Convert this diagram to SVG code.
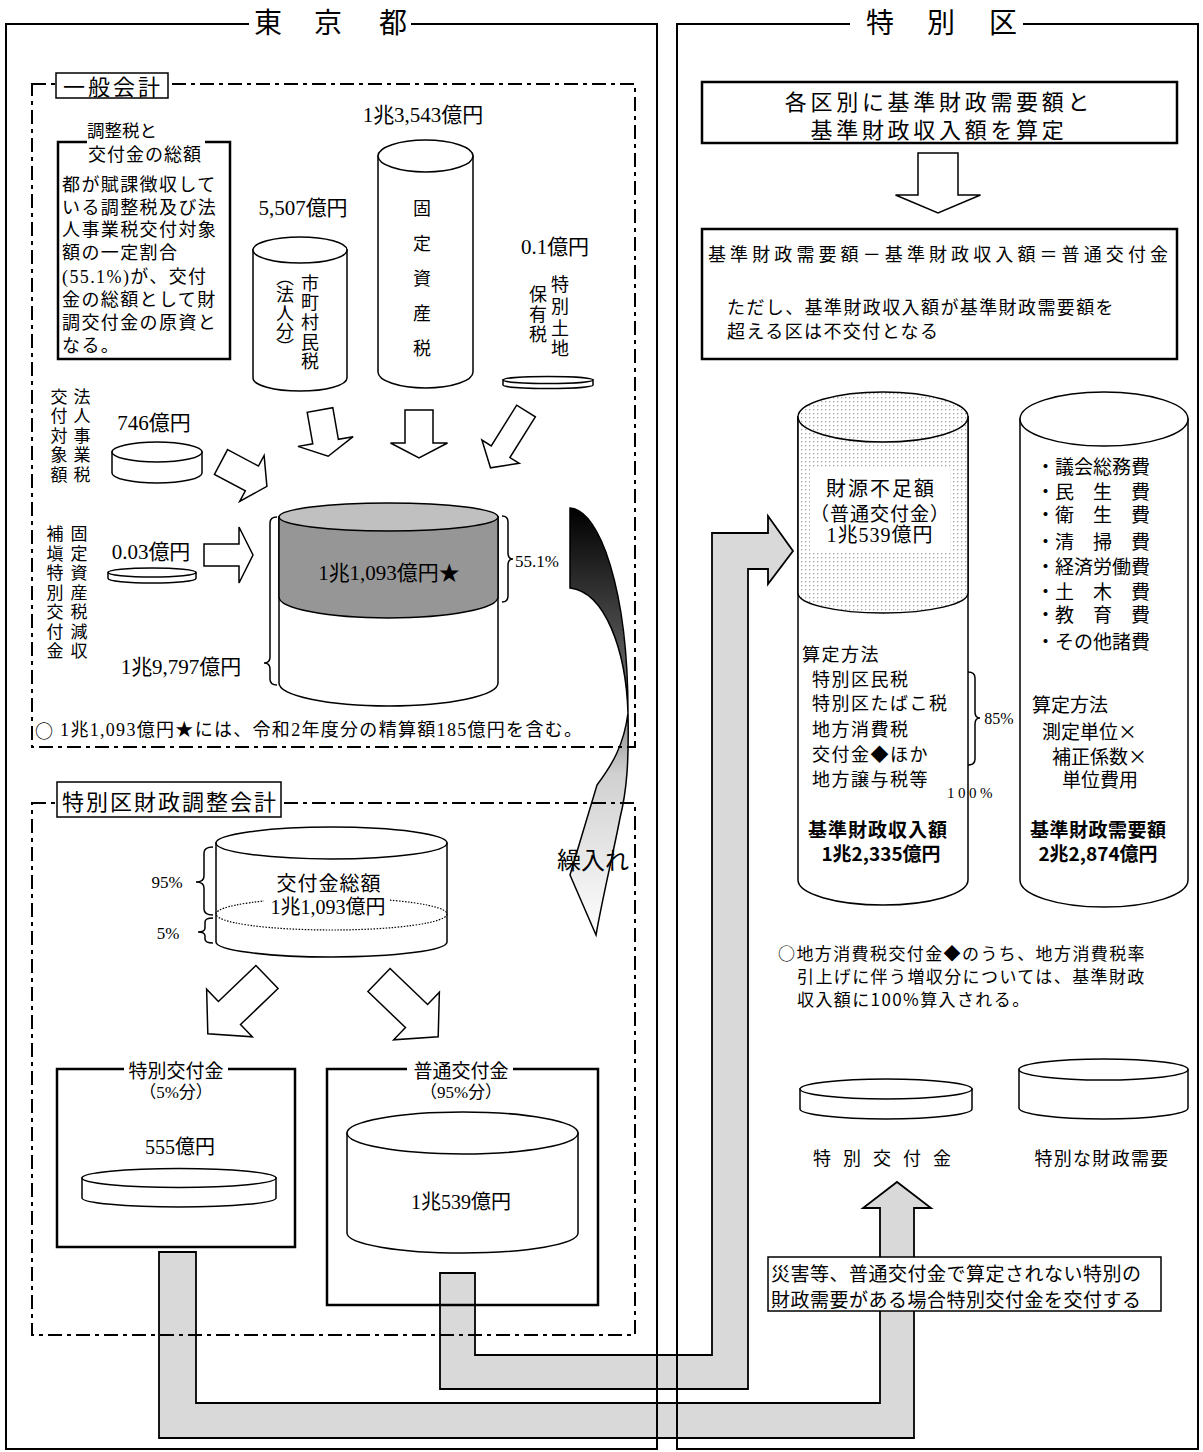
<svg xmlns="http://www.w3.org/2000/svg" width="1203" height="1452" viewBox="0 0 1203 1452">
<defs>
<style>
.t{font-family:"Liberation Serif","Noto Sans CJK JP",serif;fill:#000;dominant-baseline:central}
.s{font-family:"Noto Sans CJK JP",sans-serif;fill:#000;dominant-baseline:central}
.m{text-anchor:middle}
.b{font-weight:bold}
.ln{fill:none;stroke:#000;stroke-width:1.5}
.fw{fill:#fff;stroke:#000;stroke-width:1.5}
.bx{fill:none;stroke:#000;stroke-width:2.5}
.dd{fill:none;stroke:#000;stroke-width:2;stroke-dasharray:14 5 4 5}
.fr{fill:none;stroke:#000;stroke-width:2}
.ha{fill:#fff;stroke:#000;stroke-width:1.5}
.ga{fill:#d9d9d9;stroke:#000;stroke-width:1.8}
</style>
<pattern id="dots" width="4" height="4" patternUnits="userSpaceOnUse"><rect width="4" height="4" fill="#fff"/><rect x="1" y="1" width="1.3" height="1.3" fill="#a0a0a0"/></pattern>
<linearGradient id="gk" gradientUnits="userSpaceOnUse" x1="0" y1="508" x2="0" y2="937">
<stop offset="0" stop-color="#000"/><stop offset="0.4" stop-color="#666"/><stop offset="0.62" stop-color="#d0d0d0"/><stop offset="1" stop-color="#fff"/>
</linearGradient>
</defs>
<rect width="1203" height="1452" fill="#fff"/>

<g id="connectors">
<polygon class="ga" points="440,1273 475,1273 475,1355 712,1355 712,533 768,533 768,516 793,551 768,584 768,569 748,569 748,1389 440,1389"/>
<polygon class="ga" points="159,1252 196,1252 196,1403 880,1403 880,1208 863,1208 897,1182 931,1208 914,1208 914,1438 159,1438"/>
<polygon class="ha" points="0,-13 32,-13 32,-28 47,0 32,28 32,13 0,13" transform="translate(320,410) rotate(80)"/>
<polygon class="ha" points="0,-14 33,-14 33,-28.5 48,0 33,28.5 33,14 0,14" transform="translate(419,410) rotate(90)"/>
<polygon class="ha" points="0,-11 48,-11 48,-22 67,0 48,22 48,11 0,11" transform="translate(526,411) rotate(122)"/>
<polygon class="ha" points="0,-14 35,-14 35,-26 52,0 35,26 35,14 0,14" transform="translate(221,462) rotate(28)"/>
<polygon class="ha" points="0,-11 35,-11 35,-28 49,0 35,28 35,11 0,11" transform="translate(204,555)"/>
<polygon class="ha" points="0,-20 42,-20 42,-42.5 60,0 42,42.5 42,20 0,20" transform="translate(938,153) rotate(90)"/>
<polygon class="ha" points="0,-16 52,-16 52,-33 82,0 52,33 52,16 0,16" transform="translate(267,977) rotate(136.2)"/>
<polygon class="ha" points="0,-16 52,-16 52,-33 82,0 52,33 52,16 0,16" transform="translate(379,980) rotate(43.8)"/>
<path d="M570,508 C600,510 628,590 628,713 C626,650 605,592 570,588 Z" fill="url(#gk)" stroke="#000" stroke-width="1.5"/>
<path d="M628,713 C629,760 627,790 620,818 C614,850 603,895 596,935 L570,875 L597,785 C612,765 624,745 628,713 Z" fill="url(#gk)" stroke="#000" stroke-width="1.5"/>
<text class="s m" font-size="24" x="593" y="858" fill="#222">繰入れ</text>
</g>

<g id="frame-tokyo">
<path class="fr" d="M249,24 H6 V1449 H657 V24 H411"/>
<text class="s m" font-size="28" x="268" y="21">東</text>
<text class="s m" font-size="28" x="328" y="21">京</text>
<text class="s m" font-size="28" x="393" y="21">都</text>
</g>
<g id="frame-ku">
<path class="fr" d="M850,24 H677 V1449 H1198 V24 H1023"/>
<text class="s m" font-size="28" x="880" y="21">特</text>
<text class="s m" font-size="28" x="941" y="21">別</text>
<text class="s m" font-size="28" x="1003" y="21">区</text>
</g>

<g id="general-account">
<rect class="dd" x="32" y="84" width="603" height="663"/>
<rect class="fw" x="56" y="73" width="112" height="25"/>
<text class="s m" font-size="22" letter-spacing="3" x="113" y="85">一般会計</text>
<text class="t" font-size="18" x="35" y="730" textLength="547"><tspan class="s">○</tspan> 1兆1,093億円★には、令和2年度分の精算額185億円を含む。</text>
</g>

<g id="adjust-tax-box">
<path class="bx" d="M87,142 H58 V359 H230 V142 H205"/>
<text class="s" font-size="17.5" x="87" y="129">調整税と</text>
<text class="s" font-size="18" letter-spacing="1" x="88" y="153">交付金の総額</text>
<g class="t" font-size="18" letter-spacing="1.4">
<text x="62" y="185">都が賦課徴収して</text>
<text x="62" y="208">いる調整税及び法</text>
<text x="62" y="230">人事業税交付対象</text>
<text x="62" y="253">額の一定割合</text>
<text x="62" y="277">(55.1%)が、交付</text>
<text x="62" y="300">金の総額として財</text>
<text x="62" y="323">調交付金の原資と</text>
<text x="62" y="346">なる。</text>
</g>
</g>

<g id="cyl-shichoson">
<text class="t m" font-size="21" x="303" y="208">5,507億円</text>
<path class="fw" d="M253,250 V378 A47,13 0 0 0 347,378 V250 Z"/>
<ellipse class="fw" cx="300" cy="250" rx="47" ry="13"/>
<text class="s m" font-size="18" x="310 310 310 310 310" y="282 301 321 341 360">市町村民税</text>
<text class="s m" font-size="18" x="285 285 285 285 285" y="276 293 312 330 346">︵法人分︶</text>
</g>

<g id="cyl-kotei">
<text class="t m" font-size="21" x="423" y="115">1兆3,543億円</text>
<path class="fw" d="M378,156 V372 A47.5,16 0 0 0 473,372 V156 Z"/>
<ellipse class="fw" cx="425.5" cy="156" rx="47.5" ry="16"/>
<text class="s m" font-size="18" x="422 422 422 422 422" y="207 242 277 312 347">固定資産税</text>
</g>

<g id="cyl-tokubetsu-tochi">
<text class="t m" font-size="21" x="555" y="247">0.1億円</text>
<text class="s m" font-size="18" x="560 560 560 560" y="283 305 327 347">特別土地</text>
<text class="s m" font-size="18" x="538 538 538" y="293 313 333">保有税</text>
<path class="fw" d="M503,380 V385 A45,3.5 0 0 0 593,385 V380 Z"/>
<ellipse class="fw" cx="548" cy="380" rx="45" ry="3.5"/>
</g>

<g id="cyl-houjin">
<text class="s m" font-size="17" x="82 82 82 82 82" y="395 414 434 453 473">法人事業税</text>
<text class="s m" font-size="17" x="59 59 59 59 59" y="395 414 434 453 473">交付対象額</text>
<text class="t m" font-size="21" x="154" y="423">746億円</text>
<path class="fw" d="M112,452 V473 A45,10 0 0 0 202,473 V452 Z"/>
<ellipse class="fw" cx="157" cy="452" rx="45" ry="10"/>
</g>

<g id="cyl-hoten">
<text class="s m" font-size="17" x="79 79 79 79 79 79 79" y="532 552 571 591 610 630 649">固定資産税減収</text>
<text class="s m" font-size="17" x="55 55 55 55 55 55 55" y="532 552 571 591 610 630 649">補塡特別交付金</text>
<text class="t m" font-size="21" x="151" y="552">0.03億円</text>
<path class="fw" d="M108,572.5 V578.5 A44,4.5 0 0 0 196,578.5 V572.5 Z"/>
<ellipse class="fw" cx="152" cy="572.5" rx="44" ry="4.5"/>
</g>

<g id="cyl-total">
<path class="fw" d="M279,517 V683 A109.5,23 0 0 0 498,683 V517 Z"/>
<path d="M279,517 V597 A109.5,21 0 0 0 498,597 V517 Z" fill="#969696" stroke="#000" stroke-width="1.5"/>
<ellipse cx="388.5" cy="517" rx="109.5" ry="14" fill="#c0c0c0" stroke="#000" stroke-width="1.5"/>
<text class="t m" font-size="21" x="389" y="573">1兆1,093億円★</text>
<path class="ln" d="M502,516 Q508,516 508,522 V553 Q508,559 513,559 Q508,559 508,565 V596 Q508,602 502,602"/>
<text class="t m" font-size="17" x="537" y="561">55.1%</text>
<path class="ln" d="M277,517 Q270,517 270,523 V657 Q270,663 264,663 Q270,663 270,669 V679 Q270,685 277,685"/>
<text class="t m" font-size="21" x="181" y="667">1兆9,797億円</text>
</g>

<g id="adjust-account">
<rect class="dd" x="32" y="803" width="603" height="532"/>
<rect class="fw" x="57" y="782" width="224" height="35"/>
<text class="s m" font-size="22" letter-spacing="2" x="170" y="800">特別区財政調整会計</text>
</g>

<g id="cyl-kofukin-total">
<path class="fw" d="M216,843 V942 A115.5,15 0 0 0 447,942 V843 Z"/>
<ellipse class="fw" cx="331.5" cy="843" rx="115.5" ry="16"/>
<ellipse cx="331.5" cy="914" rx="115.5" ry="16" fill="none" stroke="#000" stroke-width="1.2" stroke-dasharray="1.5 1.5"/>
<rect x="264" y="897" width="126" height="21" fill="#fff"/>
<text class="s m" font-size="20" letter-spacing="1" x="329" y="882">交付金総額</text>
<text class="t m" font-size="20" x="328" y="907">1兆1,093億円</text>
<path class="ln" d="M213,847 Q204,847 204,853 V876 Q204,882 196,882 Q204,882 204,888 V909 Q204,915 213,915"/>
<text class="t m" font-size="17" x="167" y="882">95%</text>
<path class="ln" d="M213,918 Q205,918 205,922 V928 Q205,932 198,932 Q205,932 205,936 V939 Q205,943 213,943"/>
<text class="t m" font-size="17" x="168" y="933">5%</text>
</g>

<g id="special-grant-box">
<path class="bx" d="M124,1069 H57 V1247 H295 V1069 H228"/>
<text class="s m" font-size="19" x="176" y="1069">特別交付金</text>
<text class="t m" font-size="17" x="176" y="1092">（5%分）</text>
<text class="t m" font-size="20" x="180" y="1147">555億円</text>
<path class="fw" d="M82,1178 V1198 A97,9 0 0 0 276,1198 V1178 Z"/>
<ellipse class="fw" cx="179" cy="1178" rx="97" ry="9.5"/>
</g>

<g id="ordinary-grant-box">
<path class="bx" d="M407,1069 H327 V1305 H598 V1069 H513"/>
<text class="s m" font-size="19" x="461" y="1069">普通交付金</text>
<text class="t m" font-size="17" x="461" y="1092">（95%分）</text>
<path class="fw" d="M347,1133 V1233 A115.5,20 0 0 0 578,1233 V1133 Z"/>
<ellipse class="fw" cx="462.5" cy="1133" rx="115.5" ry="21"/>
<text class="t m" font-size="20" x="461" y="1202">1兆539億円</text>
</g>

<g id="calc-box">
<rect x="702" y="82" width="475" height="61" fill="#fff" stroke="#000" stroke-width="2.5"/>
<text class="s m" font-size="22" letter-spacing="3.7" x="939" y="100">各区別に基準財政需要額と</text>
<text class="s m" font-size="22" letter-spacing="3.7" x="939" y="128">基準財政収入額を算定</text>
</g>

<g id="formula-box">
<rect x="702" y="229" width="475" height="130" fill="#fff" stroke="#000" stroke-width="2.5"/>
<text class="s" font-size="18" letter-spacing="4.1" x="708" y="253">基準財政需要額－基準財政収入額＝普通交付金</text>
<text class="s" font-size="18" letter-spacing="1.4" x="727" y="306">ただし、基準財政収入額が基準財政需要額を</text>
<text class="s" font-size="18" letter-spacing="1.4" x="727" y="330">超える区は不交付となる</text>
</g>

<g id="cyl-revenue">
<path class="fw" d="M798,417 V880 A85,25 0 0 0 968,880 V417 Z"/>
<path d="M798,417 V593 A85,20 0 0 0 968,593 V417 Z" fill="url(#dots)" stroke="#000" stroke-width="1.5"/>
<ellipse cx="883" cy="417" rx="85" ry="25" fill="url(#dots)" stroke="#000" stroke-width="1.5"/>
<rect x="810" y="468" width="140" height="84" fill="#fff"/>
<text class="s m" font-size="20" letter-spacing="2" x="881" y="487">財源不足額</text>
<text class="s m" font-size="19" letter-spacing="1" x="880" y="512">（普通交付金）</text>
<text class="t m" font-size="20" letter-spacing="1" x="880" y="535">1兆539億円</text>
<g class="s" font-size="18" letter-spacing="1.5">
<text x="802" y="653">算定方法</text>
<text x="812" y="678">特別区民税</text>
<text x="812" y="702">特別区たばこ税</text>
<text x="812" y="728">地方消費税</text>
<text x="812" y="753">交付金◆ほか</text>
<text x="812" y="778">地方譲与税等</text>
</g>
<path class="ln" d="M968,672 Q975,672 975,678 V712 Q975,718 980,718 Q975,718 975,724 V759 Q975,765 968,765"/>
<text class="t m" font-size="16" x="999" y="718">85%</text>
<text class="t" font-size="15" letter-spacing="3.5" x="947" y="793">100%</text>
<text class="s b" font-size="19" letter-spacing="1" x="808" y="828">基準財政収入額</text>
<text class="s b m" font-size="19" x="881" y="852">1兆2,335億円</text>
</g>

<g id="cyl-demand">
<path class="fw" d="M1020,419 V880 A84,27 0 0 0 1188,880 V419 Z"/>
<ellipse class="fw" cx="1104" cy="419" rx="84" ry="27"/>
<g class="s" font-size="19">
<text x="1036" y="465">・議会総務費</text>
<text x="1036" y="490">・民　生　費</text>
<text x="1036" y="513">・衛　生　費</text>
<text x="1036" y="540">・清　掃　費</text>
<text x="1036" y="565">・経済労働費</text>
<text x="1036" y="590">・土　木　費</text>
<text x="1036" y="613">・教　育　費</text>
<text x="1036" y="640">・その他諸費</text>
<text x="1032" y="703">算定方法</text>
<text x="1042" y="730">測定単位×</text>
<text x="1052" y="755">補正係数×</text>
<text x="1062" y="778">単位費用</text>
</g>
<text class="s b" font-size="19" letter-spacing="0.5" x="1030" y="828">基準財政需要額</text>
<text class="s b m" font-size="19" x="1098" y="852">2兆2,874億円</text>
</g>

<g id="note-consumption">
<g class="s" font-size="17" letter-spacing="1.4">
<text x="778" y="952">○地方消費税交付金◆のうち、地方消費税率</text>
<text x="797" y="975">引上げに伴う増収分については、基準財政</text>
<text x="797" y="998">収入額に100%算入される。</text>
</g>
</g>

<g id="cyl-special-grant">
<path class="fw" d="M800,1089 V1109 A86,10 0 0 0 972,1109 V1089 Z"/>
<ellipse class="fw" cx="886" cy="1089" rx="86" ry="10"/>
<text class="s m" font-size="18" x="822 852 882 912 942" y="1157 1157 1157 1157 1157">特別交付金</text>
</g>

<g id="cyl-special-demand">
<path class="fw" d="M1019,1069.5 V1108 A84.5,11 0 0 0 1188,1108 V1069.5 Z"/>
<ellipse class="fw" cx="1103.5" cy="1069.5" rx="84.5" ry="10.5"/>
<text class="s m" font-size="18" letter-spacing="1.3" x="1102" y="1157">特別な財政需要</text>
</g>

<g id="disaster-box">
<rect class="fw" x="768" y="1257" width="393" height="54"/>
<text class="s" font-size="19" letter-spacing="0.5" x="771" y="1272">災害等、普通交付金で算定されない特別の</text>
<text class="s" font-size="19" letter-spacing="0.5" x="771" y="1298">財政需要がある場合特別交付金を交付する</text>
</g>
</svg>
